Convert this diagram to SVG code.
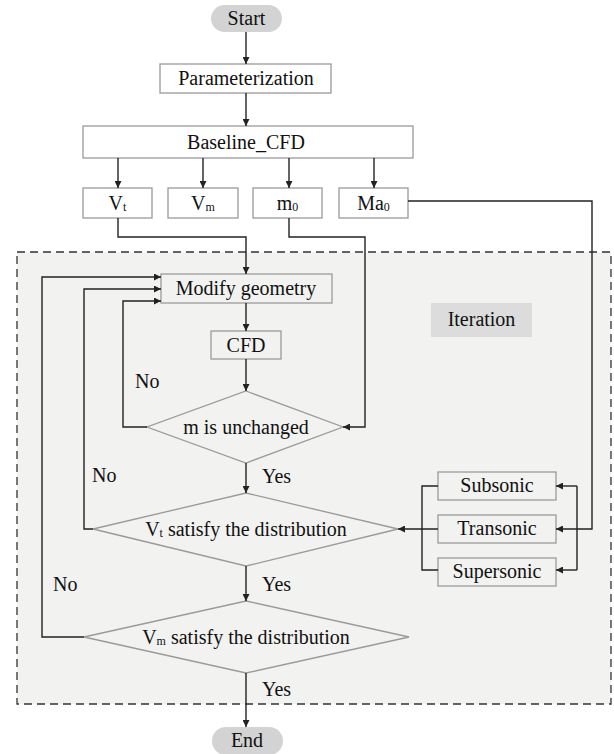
<svg xmlns="http://www.w3.org/2000/svg" width="614" height="754" viewBox="0 0 614 754">
<defs>
<marker id="arr" viewBox="0 0 10 10" refX="10" refY="5" markerWidth="7" markerHeight="7" markerUnits="userSpaceOnUse" orient="auto">
<path d="M0,0 L10,5 L0,10 z" fill="#222"/>
</marker>
<style>
text{font-family:"Liberation Serif","Times New Roman",serif;font-size:20px;fill:#111;}
.c{text-anchor:middle;}
.box{fill:#fff;stroke:#9a9a9a;stroke-width:1.3;}
.ibox{fill:#f2f2f0;stroke:#9a9a9a;stroke-width:1.3;}
.dia{fill:#f2f2f0;stroke:#9a9a9a;stroke-width:1.3;}
.pill{fill:#d3d3d3;stroke:none;}
.ln{fill:none;stroke:#222;stroke-width:1.4;}
.ar{marker-end:url(#arr);}
.sub{font-size:12px;}
</style>
</defs>
<rect width="614" height="754" fill="#fff"/>
<rect id="iteration-region" x="17" y="252" width="594" height="452" fill="#f2f2f0" stroke="#333" stroke-width="1.3" stroke-dasharray="8,5"/>

<g id="start"><rect class="pill" x="211" y="5" width="71" height="27" rx="13.5"/><text class="c" x="246.5" y="25">Start</text></g>
<g id="parameterization"><rect class="box" x="160" y="64" width="171" height="29"/><text class="c" x="246" y="85">Parameterization</text></g>
<g id="baseline-cfd"><rect class="box" x="83" y="126" width="330" height="32"/><text class="c" x="246" y="149">Baseline_CFD</text></g>
<g id="vt"><rect class="box" x="83" y="188" width="69" height="30"/><text class="c" x="117.5" y="210">V<tspan class="sub" dy="1">t</tspan></text></g>
<g id="vm"><rect class="box" x="168" y="188" width="70" height="30"/><text class="c" x="203" y="210">V<tspan class="sub" dy="1">m</tspan></text></g>
<g id="m0"><rect class="box" x="253" y="188" width="69" height="30"/><text class="c" x="287.5" y="210">m<tspan class="sub" dy="1">0</tspan></text></g>
<g id="ma0"><rect class="box" x="339" y="188" width="69" height="30"/><text class="c" x="373.5" y="210">Ma<tspan class="sub" dy="1">0</tspan></text></g>

<g id="iteration-label"><rect x="431" y="303" width="101" height="34" fill="#dcdcdc"/><text class="c" x="481.5" y="326">Iteration</text></g>
<g id="modify-geometry"><rect class="ibox" x="161" y="274" width="171" height="29"/><text class="c" x="246" y="295">Modify geometry</text></g>
<g id="cfd"><rect class="ibox" x="211" y="331" width="70" height="28"/><text class="c" x="246" y="352">CFD</text></g>
<g id="m-unchanged"><polygon class="dia" points="246,391 343,427 246,463 147,427"/><text class="c" x="246" y="434">m is unchanged</text></g>
<g id="vt-satisfy"><polygon class="dia" points="246,493 398,529 246,566 93,529"/><text class="c" x="246" y="536">V<tspan class="sub" dy="1">t</tspan><tspan dy="-1"> satisfy the distribution</tspan></text></g>
<g id="vm-satisfy"><polygon class="dia" points="246,601 409,637 246,673 84,637"/><text class="c" x="246" y="644">V<tspan class="sub" dy="1">m</tspan><tspan dy="-1"> satisfy the distribution</tspan></text></g>
<g id="subsonic"><rect class="ibox" x="438" y="472" width="118" height="28"/><text class="c" x="497" y="492">Subsonic</text></g>
<g id="transonic"><rect class="ibox" x="438" y="515" width="118" height="28"/><text class="c" x="497" y="535">Transonic</text></g>
<g id="supersonic"><rect class="ibox" x="438" y="558" width="118" height="28"/><text class="c" x="497" y="578">Supersonic</text></g>
<g id="end"><rect class="pill" x="212" y="727" width="71" height="28" rx="14"/><text class="c" x="247" y="747">End</text></g>

<g id="connectors">
<path class="ln ar" d="M246,32 V64"/>
<path class="ln ar" d="M246,93 V126"/>
<path class="ln ar" d="M118,158 V188"/>
<path class="ln ar" d="M203,158 V188"/>
<path class="ln ar" d="M289,158 V188"/>
<path class="ln ar" d="M374,158 V188"/>
<path class="ln ar" d="M118,218 V237 H246 V274"/>
<path class="ln ar" d="M289,218 V237 H365 V427 H343"/>
<path class="ln ar" d="M408,201 H592 V529 H556"/>
<path class="ln" d="M577,486 V570"/>
<path class="ln ar" d="M577,486 H556"/>
<path class="ln ar" d="M577,570 H556"/>
<path class="ln" d="M438,486 H422 V570 H438"/>
<path class="ln ar" d="M438,529 H398"/>
<path class="ln ar" d="M246,303 V331"/>
<path class="ln ar" d="M246,359 V391"/>
<path class="ln ar" d="M246,463 V493"/>
<path class="ln ar" d="M246,566 V601"/>
<path class="ln ar" d="M246,673 V727"/>
<path class="ln ar" d="M147,427 H123 V301 H161"/>
<path class="ln ar" d="M93,529 H84 V289 H161"/>
<path class="ln ar" d="M84,637 H42 V277 H161"/>
<text x="135" y="388">No</text>
<text x="92" y="482">No</text>
<text x="53" y="591">No</text>
<text x="262" y="483">Yes</text>
<text x="262" y="591">Yes</text>
<text x="262" y="696">Yes</text>
</g>
</svg>
